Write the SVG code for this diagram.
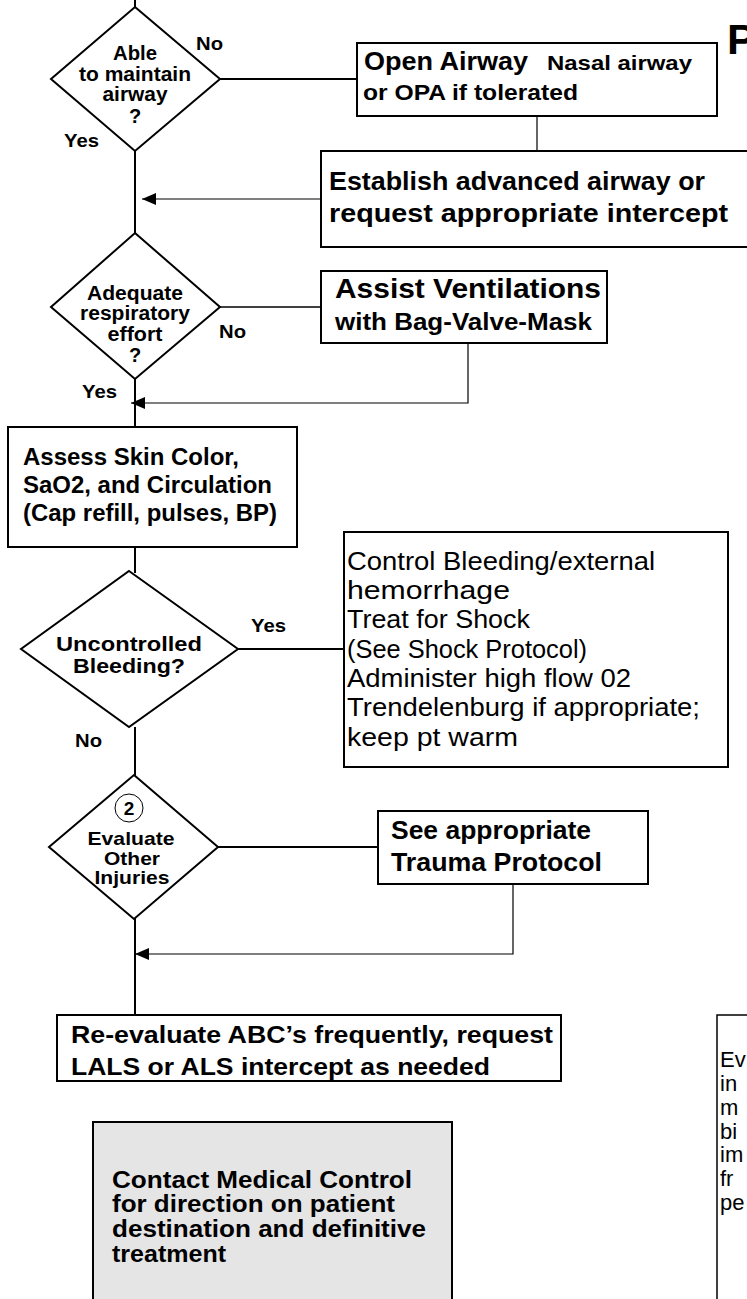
<svg xmlns="http://www.w3.org/2000/svg" width="747" height="1299" viewBox="0 0 747 1299">
<defs>
<style>
.bg{fill:#fff}
.shape{fill:#fff;stroke:#000;stroke-width:2}
.grey{fill:#e5e5e5;stroke:#000;stroke-width:2}
.main{stroke:#000;stroke-width:2;fill:none}
.thin{stroke:#000;stroke-width:1.2;fill:none}
.b{font-family:"Liberation Sans",Arial,sans-serif;font-weight:bold;fill:#000}
.r{font-family:"Liberation Sans",Arial,sans-serif;font-weight:normal;fill:#000}
.c{text-anchor:middle}
</style>
<marker id="ah" markerUnits="userSpaceOnUse" markerWidth="14" markerHeight="12" refX="14" refY="6" orient="auto">
<path d="M0,0 L14,6 L0,12 z" fill="#000"/>
</marker>
</defs>
<rect class="bg" x="0" y="0" width="747" height="1299"/>

<g id="connectors">
<line class="main" x1="135" y1="0" x2="135" y2="8"/>
<line class="main" x1="135" y1="151" x2="135" y2="233"/>
<line class="main" x1="135" y1="379" x2="135" y2="427"/>
<line class="main" x1="135" y1="547" x2="135" y2="573"/>
<line class="main" x1="135" y1="727" x2="135" y2="776"/>
<line class="main" x1="135" y1="918" x2="135" y2="1015"/>
<line class="main" x1="220" y1="79" x2="357" y2="79"/>
<line class="thin" x1="537" y1="116" x2="537" y2="151"/>
<line class="thin" x1="321" y1="199" x2="142" y2="199" marker-end="url(#ah)"/>
<line class="thin" x1="220" y1="307" x2="321" y2="307" style="stroke-width:1.6"/>
<polyline class="thin" points="468,343 468,403 131,403" marker-end="url(#ah)"/>
<line class="main" x1="238" y1="649" x2="344" y2="649"/>
<line class="main" x1="218" y1="847" x2="378" y2="847"/>
<polyline class="thin" points="513,884 513,954 135,954" marker-end="url(#ah)"/>
</g>

<g id="title">
<text class="b" x="727" y="54" font-size="43">P</text>
</g>

<g id="d-airway">
<polygon class="shape" points="135,7 220,79 135,151 51,79"/>
<text class="b c" x="135" y="60" font-size="20" textLength="44" lengthAdjust="spacingAndGlyphs">Able</text>
<text class="b c" x="135" y="81" font-size="20" textLength="112" lengthAdjust="spacingAndGlyphs">to maintain</text>
<text class="b c" x="135" y="101" font-size="20" textLength="65" lengthAdjust="spacingAndGlyphs">airway</text>
<text class="b c" x="135" y="123" font-size="20">?</text>
<text class="b" x="196" y="50" font-size="19" textLength="27" lengthAdjust="spacingAndGlyphs">No</text>
<text class="b" x="64" y="147" font-size="19" textLength="35" lengthAdjust="spacingAndGlyphs">Yes</text>
</g>

<g id="open-airway">
<rect class="shape" x="357" y="43" width="360" height="73"/>
<text class="b" x="364" y="70" font-size="25" textLength="164" lengthAdjust="spacingAndGlyphs">Open Airway</text>
<text class="b" x="547" y="70" font-size="21" textLength="145" lengthAdjust="spacingAndGlyphs">Nasal airway</text>
<text class="b" x="363" y="100" font-size="22" textLength="215" lengthAdjust="spacingAndGlyphs">or OPA if tolerated</text>
</g>

<g id="establish">
<rect class="shape" x="321" y="151" width="460" height="96"/>
<text class="b" x="329" y="190" font-size="25" textLength="376" lengthAdjust="spacingAndGlyphs">Establish advanced airway or</text>
<text class="b" x="329" y="222" font-size="25" textLength="399" lengthAdjust="spacingAndGlyphs">request appropriate intercept</text>
</g>

<g id="d-resp">
<polygon class="shape" points="135,233 220,307 135,379 51,307"/>
<text class="b c" x="135" y="300" font-size="20" textLength="96" lengthAdjust="spacingAndGlyphs">Adequate</text>
<text class="b c" x="135" y="320" font-size="20" textLength="110" lengthAdjust="spacingAndGlyphs">respiratory</text>
<text class="b c" x="135" y="341" font-size="20" textLength="55" lengthAdjust="spacingAndGlyphs">effort</text>
<text class="b c" x="135" y="362" font-size="20">?</text>
<text class="b" x="219" y="338" font-size="19" textLength="27" lengthAdjust="spacingAndGlyphs">No</text>
<text class="b" x="82" y="398" font-size="19" textLength="35" lengthAdjust="spacingAndGlyphs">Yes</text>
</g>

<g id="assist">
<rect class="shape" x="321" y="271" width="286" height="72"/>
<text class="b" x="335" y="298" font-size="27" textLength="266" lengthAdjust="spacingAndGlyphs">Assist Ventilations</text>
<text class="b" x="335" y="330" font-size="23" textLength="257" lengthAdjust="spacingAndGlyphs">with Bag-Valve-Mask</text>
</g>

<g id="assess">
<rect class="shape" x="8" y="427" width="289" height="120"/>
<text class="b" x="23" y="465" font-size="23" textLength="216" lengthAdjust="spacingAndGlyphs">Assess Skin Color,</text>
<text class="b" x="23" y="493" font-size="23" textLength="249" lengthAdjust="spacingAndGlyphs">SaO2, and Circulation</text>
<text class="b" x="23" y="521" font-size="23" textLength="254" lengthAdjust="spacingAndGlyphs">(Cap refill, pulses, BP)</text>
</g>

<g id="d-bleeding">
<polygon class="shape" points="129,571 238,649 129,727 21,649"/>
<text class="b c" x="129" y="651" font-size="21" textLength="146" lengthAdjust="spacingAndGlyphs">Uncontrolled</text>
<text class="b c" x="129" y="673" font-size="21" textLength="112" lengthAdjust="spacingAndGlyphs">Bleeding?</text>
<text class="b" x="251" y="632" font-size="19" textLength="35" lengthAdjust="spacingAndGlyphs">Yes</text>
<text class="b" x="75" y="747" font-size="19" textLength="27" lengthAdjust="spacingAndGlyphs">No</text>
</g>

<g id="control-bleeding">
<rect class="shape" x="344" y="532" width="384" height="235"/>
<text class="r" x="347" y="570" font-size="25" textLength="308" lengthAdjust="spacingAndGlyphs">Control Bleeding/external</text>
<text class="r" x="347" y="599" font-size="25" textLength="163" lengthAdjust="spacingAndGlyphs">hemorrhage</text>
<text class="r" x="347" y="628" font-size="25" textLength="183" lengthAdjust="spacingAndGlyphs">Treat for Shock</text>
<text class="r" x="347" y="658" font-size="25" textLength="240" lengthAdjust="spacingAndGlyphs">(See Shock Protocol)</text>
<text class="r" x="347" y="687" font-size="25" textLength="284" lengthAdjust="spacingAndGlyphs">Administer high flow 02</text>
<text class="r" x="347" y="716" font-size="25" textLength="353" lengthAdjust="spacingAndGlyphs">Trendelenburg if appropriate;</text>
<text class="r" x="347" y="746" font-size="25" textLength="171" lengthAdjust="spacingAndGlyphs">keep pt warm</text>
</g>

<g id="d-evaluate">
<polygon class="shape" points="134,775 218,847 134,919 49,847"/>
<circle cx="129" cy="808" r="14" fill="none" stroke="#000" stroke-width="1"/>
<text class="b c" x="129" y="815" font-size="19">2</text>
<text class="b c" x="131" y="845" font-size="19" textLength="87" lengthAdjust="spacingAndGlyphs">Evaluate</text>
<text class="b c" x="132" y="865" font-size="19" textLength="56" lengthAdjust="spacingAndGlyphs">Other</text>
<text class="b c" x="132" y="884" font-size="19" textLength="75" lengthAdjust="spacingAndGlyphs">Injuries</text>
</g>

<g id="trauma">
<rect class="shape" x="378" y="811" width="270" height="73"/>
<text class="b" x="391" y="839" font-size="25" textLength="200" lengthAdjust="spacingAndGlyphs">See appropriate</text>
<text class="b" x="391" y="871" font-size="25" textLength="211" lengthAdjust="spacingAndGlyphs">Trauma Protocol</text>
</g>

<g id="reevaluate">
<rect class="shape" x="57" y="1015" width="504" height="66"/>
<text class="b" x="71" y="1043" font-size="24" textLength="482" lengthAdjust="spacingAndGlyphs">Re-evaluate ABC’s frequently, request</text>
<text class="b" x="71" y="1075" font-size="24" textLength="419" lengthAdjust="spacingAndGlyphs">LALS or ALS intercept as needed</text>
</g>

<g id="contact">
<rect class="grey" x="93" y="1122" width="359" height="200"/>
<text class="b" x="112" y="1188" font-size="23" textLength="300" lengthAdjust="spacingAndGlyphs">Contact Medical Control</text>
<text class="b" x="112" y="1212" font-size="23" textLength="283" lengthAdjust="spacingAndGlyphs">for direction on patient</text>
<text class="b" x="112" y="1237" font-size="23" textLength="314" lengthAdjust="spacingAndGlyphs">destination and definitive</text>
<text class="b" x="112" y="1262" font-size="23" textLength="114" lengthAdjust="spacingAndGlyphs">treatment</text>
</g>

<g id="side-note">
<rect x="717" y="1015" width="100" height="300" fill="#fff" stroke="#000" stroke-width="1.5"/>
<text class="r" x="720" y="1067" font-size="22">Ev</text>
<text class="r" x="720" y="1091" font-size="22">in</text>
<text class="r" x="720" y="1115" font-size="22">m</text>
<text class="r" x="720" y="1139" font-size="22">bi</text>
<text class="r" x="720" y="1162" font-size="22">im</text>
<text class="r" x="720" y="1186" font-size="22">fr</text>
<text class="r" x="720" y="1210" font-size="22">pe</text>
</g>
</svg>
